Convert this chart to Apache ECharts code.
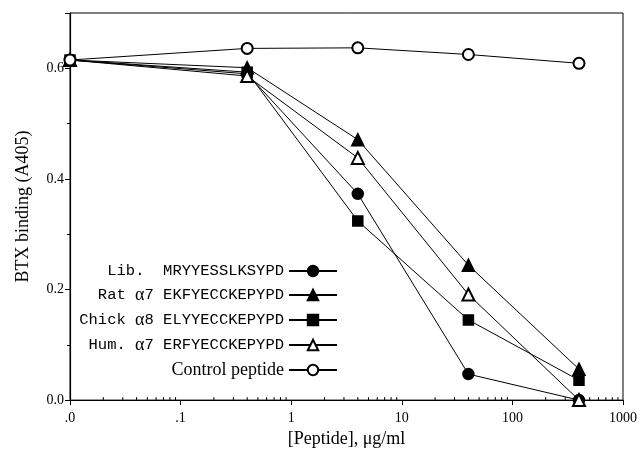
<!DOCTYPE html>
<html>
<head>
<meta charset="utf-8">
<script src="https://cdn.jsdelivr.net/npm/echarts@6/dist/echarts.min.js"></script>
<style>
  html, body { margin: 0; padding: 0; background: #fff; }
  #chart { width: 640px; height: 453px; }
</style>
</head>
<body>
<div id="chart"></div>
<script>
// peptide concentration, ug/ml
var conc = [0.01, 0.4, 4, 40, 400];

// BTX binding (A405)
var lib     = [0.615, 0.590, 0.373, 0.047, 0.000];
var rat     = [0.615, 0.601, 0.471, 0.244, 0.056];
var chick   = [0.615, 0.593, 0.324, 0.145, 0.036];
var hum     = [0.615, 0.586, 0.438, 0.191, 0.000];
var control = [0.615, 0.636, 0.637, 0.625, 0.609];

var seriesNames = ['Lib.', 'Rat a7', 'Chick a8', 'Hum. a7', 'Control peptide'];
var legendText = {
    'Lib.': '{m|Lib.  MRYYESSLKSYPD}',
    'Rat a7': '{m|Rat }{g|\u03b1}{m|7 EKFYECCKEPYPD}',
    'Chick a8': '{m|Chick }{g|\u03b1}{m|8 ELYYECCKEPYPD}',
    'Hum. a7': '{m|Hum. }{g|\u03b1}{m|7 ERFYECCKEPYPD}',
    'Control peptide': '{g|Control peptide}'
};
var symbols = ['circle', 'triangle', 'rect', 'emptyTriangle', 'emptyCircle'];
var symbolSizes = [11, 12, 10, 12, 11];
var values = [lib, rat, chick, hum, control];

var serif = '"Liberation Serif", "DejaVu Serif", serif';
var mono = '"Liberation Mono", "DejaVu Sans Mono", monospace';

var chart = echarts.init(document.getElementById('chart'));

function pairs(ys) {
    var out = [];
    for (var i = 0; i < conc.length; i++) {
        out.push([conc[i], ys[i]]);
    }
    return out;
}

var series = [];
for (var i = 0; i < seriesNames.length; i++) {
    series.push({
        name: seriesNames[i],
        type: 'line',
        data: pairs(values[i]),
        symbol: symbols[i],
        symbolSize: symbolSizes[i],
        showAllSymbol: true,
        animation: false,
        color: '#000',
        lineStyle: { color: '#000', width: 1 },
        itemStyle: { color: '#000', borderColor: '#000', borderWidth: 1.5 }
    });
}

var option = {
    backgroundColor: '#fff',
    animation: false,
    grid: {
        left: 70, right: 17, top: 13, bottom: 51,
        show: true, borderColor: '#000', borderWidth: 1
    },
    legend: {
        data: seriesNames,
        orient: 'vertical',
        align: 'right',
        right: 302,
        top: 263,
        padding: 0,
        itemWidth: 48,
        itemHeight: 13,
        itemGap: 7,
        selectedMode: false,
        formatter: function (name) { return legendText[name]; },
        textStyle: {
            color: '#000',
            rich: {
                m: { fontFamily: mono, fontSize: 15.5, color: '#000', lineHeight: 17 },
                g: { fontFamily: serif, fontSize: 18, color: '#000', lineHeight: 17 }
            }
        }
    },
    xAxis: {
        type: 'log',
        logBase: 10,
        min: 0.01,
        max: 1000,
        name: '[Peptide], \u03bcg/ml',
        nameLocation: 'middle',
        nameGap: 27,
        nameTextStyle: { fontFamily: serif, fontSize: 18, color: '#000' },
        axisLine: { lineStyle: { color: '#000', width: 1.2 } },
        axisTick: { length: 5, lineStyle: { color: '#000' } },
        splitLine: { show: false },
        axisLabel: {
            fontFamily: serif, fontSize: 14, color: '#000', margin: 11,
            formatter: function (v) {
                var p = Math.round(Math.log10(v));
                if (p === -2) return '.0';
                if (p === -1) return '.1';
                return String(Math.pow(10, p));
            }
        }
    },
    yAxis: {
        type: 'value',
        min: 0,
        max: 0.7,
        interval: 0.2,
        name: 'BTX binding (A405)',
        nameLocation: 'middle',
        nameGap: 38,
        nameTextStyle: { fontFamily: serif, fontSize: 18, color: '#000' },
        axisLine: { show: true, lineStyle: { color: '#000', width: 1.2 } },
        axisTick: { show: true, length: 5, lineStyle: { color: '#000' } },
        minorTick: { show: true, splitNumber: 2, length: 3, lineStyle: { color: '#000' } },
        splitLine: { show: false },
        axisLabel: {
            fontFamily: serif, fontSize: 14, color: '#000', margin: 6,
            showMaxLabel: false,
            formatter: function (v) { return v.toFixed(1); }
        }
    },
    series: series
};

chart.setOption(option);

// log minor ticks (2..9 in every decade), pointing into the plot
var minorTicks = [];
for (var d = -2; d < 3; d++) {
    for (var k = 2; k < 10; k++) {
        var p = chart.convertToPixel({ xAxisIndex: 0, yAxisIndex: 0 }, [k * Math.pow(10, d), 0]);
        minorTicks.push({
            type: 'line',
            silent: true,
            shape: { x1: p[0], y1: p[1], x2: p[0], y2: p[1] - 3 },
            style: { stroke: '#000', lineWidth: 1 }
        });
    }
}
chart.setOption({ graphic: minorTicks });
</script>
</body>
</html>
